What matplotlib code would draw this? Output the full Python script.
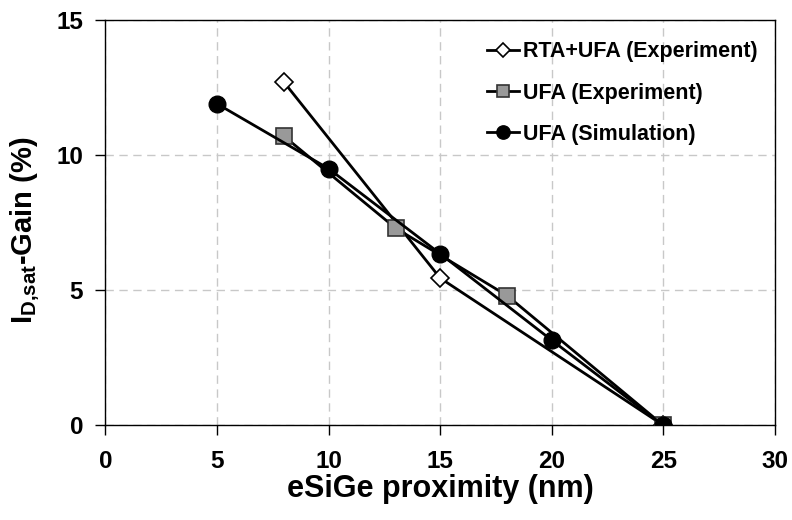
import matplotlib
matplotlib.use("Agg")
import matplotlib.pyplot as plt

plt.rcParams["font.family"] = ["Liberation Sans", "DejaVu Sans"]
plt.rcParams["font.weight"] = "bold"
plt.rcParams["mathtext.fontset"] = "custom"
plt.rcParams["mathtext.rm"] = "Liberation Sans:bold"
plt.rcParams["mathtext.bf"] = "Liberation Sans:bold"

# proximity (nm) vs. drive current gain (%)
rta_x = [8, 15, 25]
rta_y = [12.7, 5.45, 0.0]

ufa_exp_x = [8, 13, 18, 25]
ufa_exp_y = [10.7, 7.3, 4.8, 0.0]

ufa_sim_x = [5, 10, 15, 20, 25]
ufa_sim_y = [11.9, 9.5, 6.35, 3.15, 0.0]

xticks = [0, 5, 10, 15, 20, 25, 30]
yticks = [0, 5, 10, 15]

fig = plt.figure(figsize=(7.92, 5.2), dpi=100)
ax = fig.add_axes([0.1331, 0.182, 0.8454, 0.7795])

ax.plot(rta_x, rta_y, color="black", lw=2, marker="D", ms=9,
        mfc="white", mec="black", mew=1.2, label="RTA+UFA (Experiment)", zorder=3)
ax.plot(ufa_exp_x, ufa_exp_y, color="black", lw=2, marker="s", ms=11,
        mfc="#999999", mec="#333333", mew=1.2, label="UFA (Experiment)", zorder=3)
ax.plot(ufa_sim_x, ufa_sim_y, color="black", lw=2, marker="o", ms=12,
        mfc="black", mec="black", label="UFA (Simulation)", zorder=3)

ax.set_xlim(0, 30)
ax.set_ylim(0, 15)
ax.set_xticks(xticks)
ax.set_yticks(yticks)
ax.tick_params(axis="both", direction="out", length=7, width=1, labelsize=17.5)
ax.tick_params(axis="x", pad=11)
ax.tick_params(axis="y", pad=9)
for lbl in ax.get_xticklabels() + ax.get_yticklabels():
    lbl.set_fontweight("bold")

ax.grid(True, color="#c8c8c8", lw=1, linestyle=(0, (6, 4)), zorder=0)
ax.set_axisbelow(True)

for sp in ax.spines.values():
    sp.set_color("black")
    sp.set_linewidth(1)

ax.set_xlabel("eSiGe proximity (nm)", fontsize=22, fontweight="bold")
ax.set_ylabel(r"$\mathregular{I_{D{,}sat}}$-Gain (%)", fontsize=21, fontweight="bold")
ax.xaxis.set_label_coords(0.5, -0.121)
ax.yaxis.set_label_coords(-0.094, 0.481)

ax.legend(loc="upper left", bbox_to_anchor=(0.57, 0.948), frameon=False,
          handlelength=1.5, handletextpad=0.15, labelspacing=0.95, markerscale=0.8,
          borderpad=0, borderaxespad=0, prop={"weight": "bold", "size": 15.5})

fig.savefig("out.png", dpi=100)
